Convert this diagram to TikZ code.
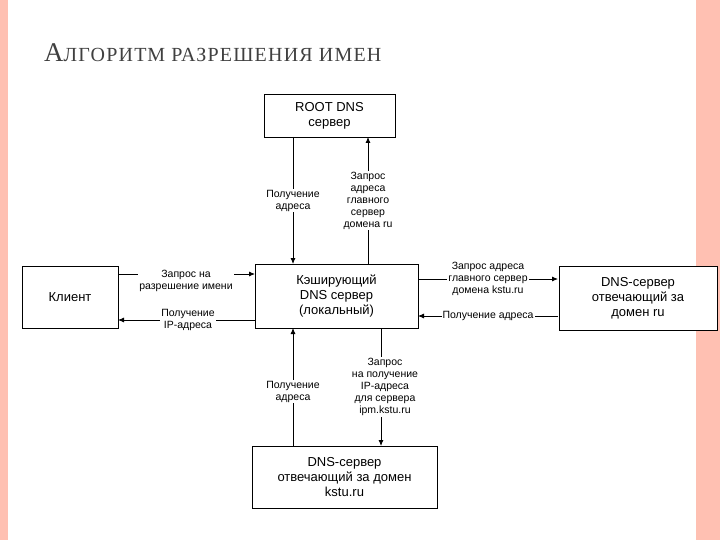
\documentclass[tikz,border=0pt]{standalone}
\usepackage{fontspec}
\newfontfamily\sansf{Liberation Sans}
\newfontfamily\seriff[LetterSpace=6]{Liberation Serif}
\usetikzlibrary{arrows.meta}
\begin{document}
\begin{tikzpicture}[x=1pt,y=-1pt,
  box/.style={draw,thick,fill=white,inner sep=0pt,align=center,font=\sansf\fontsize{13}{15}\selectfont},
  lbl/.style={fill=white,inner sep=1pt,align=center,font=\sansf\fontsize{10.5}{12}\selectfont},
  arr/.style={thick,-{Latex[length=6pt,width=5pt]}}]
\useasboundingbox (0,0) rectangle (720,540);
\fill[orange!35!red!30] (0,0) rectangle (8,540);
\fill[orange!35!red!30] (696,0) rectangle (720,540);
\fill[white] (10,0) rectangle (690,540);
\node[anchor=base west,inner sep=0pt,text=black!75] (t) at (44,62) {\seriff{\fontsize{27}{30}\selectfont А}{\fontsize{20}{24}\selectfont ЛГОРИТМ РАЗРЕШЕНИЯ ИМЕН}};
\node[box,minimum width=131pt,minimum height=43pt] (root) at (329.5,115.5) {ROOT DNS\\сервер};
\node[box,minimum width=163pt,minimum height=64pt] (cache) at (336.5,296) {Кэширующий\\DNS сервер\\(локальный)};
\node[box,minimum width=96pt,minimum height=62pt] (client) at (70,297) {Клиент};
\node[box,minimum width=158pt,minimum height=64pt] (ru) at (638,298) {DNS-сервер\\отвечающий за\\домен ru};
\node[box,minimum width=185pt,minimum height=62pt] (kstu) at (344.5,477) {DNS-сервер\\отвечающий за домен\\kstu.ru};
\coordinate (r1) at (293,137); \coordinate (c1) at (293,264);
\coordinate (r2) at (368,137); \coordinate (c2) at (368,264);
\draw[arr] (r1) -- (c1) node[lbl,pos=0.5] {Получение\\адреса};
\draw[arr] (c2) -- (r2) node[lbl,pos=0.5] {Запрос\\адреса\\главного\\сервер\\домена ru};
\coordinate (a1) at (118,274); \coordinate (a2) at (255,274);
\coordinate (b1) at (255,320); \coordinate (b2) at (118,320);
\draw[arr] (a1) -- (a2);
\node[lbl] at (186,281) {Запрос на\\разрешение имени};
\draw[arr] (b1) -- (b2);
\node[lbl] at (188,320) {Получение\\IP-адреса};
\coordinate (d1) at (418,279); \coordinate (d2) at (558,279);
\coordinate (e1) at (558,316); \coordinate (e2) at (418,316);
\draw[arr] (d1) -- (d2);
\node[lbl] at (488,279) {Запрос адреса\\главного сервер\\домена kstu.ru};
\draw[arr] (e1) -- (e2);
\node[lbl] at (488,316) {Получение адреса};
\coordinate (k1) at (293,446); \coordinate (k2) at (293,328);
\coordinate (m1) at (381,328); \coordinate (m2) at (381,446);
\draw[arr] (k1) -- (k2) node[lbl,pos=0.46] {Получение\\адреса};
\draw[arr] (m1) -- (m2);
\node[lbl] at (385,387) {Запрос\\на получение\\IP-адреса\\для сервера\\ipm.kstu.ru};
\end{tikzpicture}
\end{document}
